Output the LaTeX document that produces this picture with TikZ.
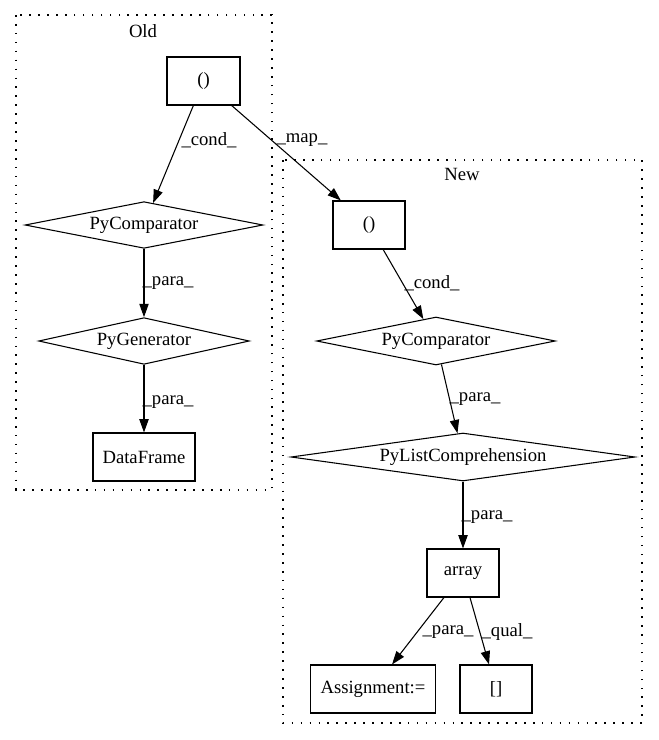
\documentclass[tikz,border=0pt]{standalone}
\usepackage{fontspec}
\setmainfont{Liberation Serif}
\usepackage{tikz}
\usetikzlibrary{arrows.meta,shapes,positioning}

\begin{document}
\begin{tikzpicture}[x=0.75pt,y=-0.75pt,
  every node/.style={font=\fontsize{14}{16}\selectfont, inner sep=0pt},
  box/.style={rectangle, draw, line width=0.8pt, minimum height=36pt},
  cmp/.style={diamond, draw, line width=0.8pt, aspect=6, minimum height=35pt},
  lbl/.style={draw=none},
  cluster/.style={draw, line width=0.8pt, dash pattern=on 1.2pt off 5.5pt},
  link/.style={->, line width=0.8pt},
  >={Triangle[length=10pt,width=7pt]}]

\useasboundingbox (0,0) rectangle (659,740);

% the two clusters
\draw [cluster] (16,15) rectangle (272,490);
\draw [cluster] (283,160) rectangle (642,723);
\node (old) [lbl] at (143,31) {Old};
\node (new) [lbl] at (462,174) {New};

% old side
\node (p1) [box, minimum width=54.75pt] at (203.5,81) {()};
\node (c1) [cmp, minimum width=178.5pt] at (144,225) {PyComparator};
\node (g1) [cmp, minimum width=158pt] at (144,341) {PyGenerator};
\node (df) [box, minimum width=76.5pt] at (144,457) {DataFrame};

% new side
\node (p2) [box, minimum width=54pt] at (369,225) {()};
\node (c2) [cmp, minimum width=179pt, minimum height=36pt] at (436,341) {PyComparator};
\node (lc) [cmp, minimum width=258pt, minimum height=36pt] at (463,457) {PyListComprehension};
\node (ar) [box, minimum width=54pt] at (463,573) {array};
\node (as) [box, minimum width=93.75pt] at (373,689) {Assignment:=};
\node (sb) [box, minimum width=54pt] at (496,689) {[]};

\draw [link] (p1) -- (c1);
\draw [link] (p1) -- (p2);
\draw [link] (c1) -- (g1);
\draw [link] (g1) -- (df);
\draw [link] (p2) -- (c2);
\draw [link] (c2) -- (lc);
\draw [link] (lc) -- (ar);
\draw [link] (ar) -- (as);
\draw [link] (ar) -- (sb);

\node (l1) [lbl] at (209,140) {\_cond\_};
\node (l2) [lbl] at (302,140) {\_map\_};
\node (l3) [lbl] at (168,283) {\_para\_};
\node (l4) [lbl] at (168,402) {\_para\_};
\node (l5) [lbl] at (432,283) {\_cond\_};
\node (l6) [lbl] at (475,399) {\_para\_};
\node (l7) [lbl] at (487,517) {\_para\_};
\node (l8) [lbl] at (448,632) {\_para\_};
\node (l9) [lbl] at (507,632) {\_qual\_};

\end{tikzpicture}
\end{document}
